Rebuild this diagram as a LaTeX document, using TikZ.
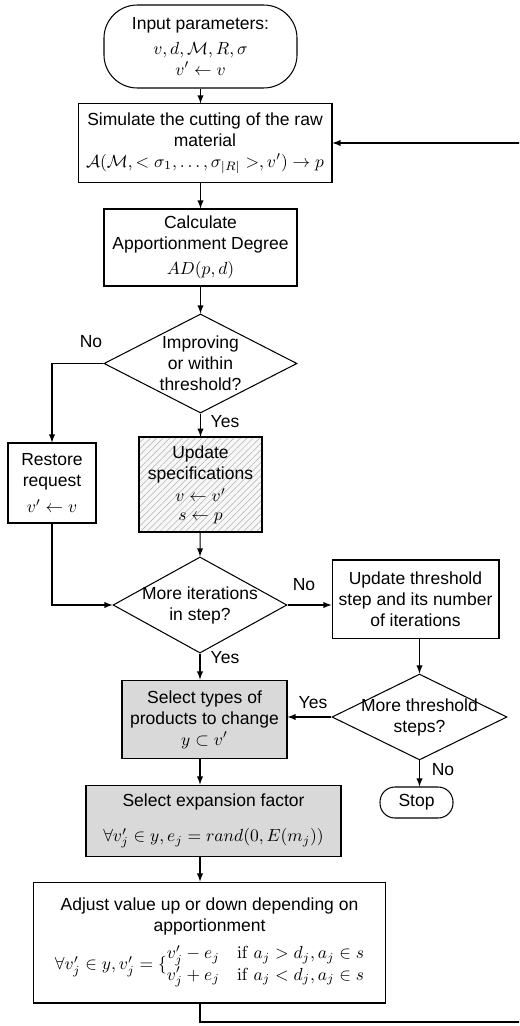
\documentclass[tikz,border=0pt]{standalone}
\usepackage{amsmath}
\usepackage[no-math]{fontspec}
\setsansfont{Liberation Sans}
\usepackage{tikz}
\usetikzlibrary{shapes.geometric,patterns.meta}
\tikzset{> = latex, every picture/.style={line width=0.6pt}}
\tikzset{
  proc/.style={rectangle,draw,align=center,inner sep=2pt},
  term/.style={rectangle,draw,align=center,inner sep=2pt},
  decision/.style={diamond,draw,inner sep=0pt},
  chosen/.style={proc,fill=black!15},
  hatched/.style={proc,preaction={fill=black!3},
    pattern={Lines[angle=45,distance=2.6pt,line width=0.3pt]},pattern color=black!30}
}

\begin{document}
\begin{tikzpicture}[x=0.5714pt,y=-0.5714pt,font=\sffamily]
\clip (0,0) rectangle (519,1026);

\begin{scope}
\node[term,rounded corners=19pt,minimum width=110.3pt,minimum height=47.4pt] (start) at (200.5,46.5)
  {Input parameters:\\[2pt] $v, d, \mathcal{M}, R, \sigma$\\ $v' \leftarrow v$};
\node[proc,minimum width=145.1pt,minimum height=44.6pt] (sim) at (205,143)
  {Simulate the cutting of the raw\\ material\\ $\mathcal{A}(\mathcal{M}, <\sigma_1, \ldots, \sigma_{|R|}>, v') \rightarrow p$};
\node[proc,minimum width=110.3pt,minimum height=44pt] (calc) at (200.5,247.5)
  {Calculate\\ Apportionment Degree\\[2pt] $AD(p,d)$};
\node[decision,minimum width=110.3pt,minimum height=56.6pt,
  label={[align=center]center:Improving\\ or within\\ threshold?}] (improve) at (200.5,363.5) {};
\node[proc,minimum width=50.3pt,minimum height=45.7pt] (restore) at (52,483)
  {Restore\\ request\\[3pt] $v' \leftarrow v$};
\node[hatched,minimum width=70.3pt,minimum height=54.3pt] (update) at (200.5,484.5)
  {Update\\ specifications\\[1pt] $v \leftarrow v'$\\[-1.5pt] $s \leftarrow p$};
\node[decision,minimum width=99.4pt,minimum height=54.9pt,
  label={[align=center]center:More iterations\\ in step?}] (iter) at (200,605) {};
\node[proc,minimum width=95.4pt,minimum height=44.6pt] (thresh) at (415.5,599)
  {Update threshold\\ step and its number\\ of iterations};
\node[decision,minimum width=100pt,minimum height=49.1pt,
  label={[align=center]center:More threshold\\ steps?}] (steps) at (419.5,717) {};
\node[chosen,minimum width=94.3pt,minimum height=45.1pt] (types) at (204.5,719.5)
  {Select types of\\ products to change\\ $y \subset v'$};
\node[term,rounded corners=8.5pt,minimum width=41.7pt,minimum height=17.7pt] (stop) at (416.5,802.5) {Stop};
\node[chosen,minimum width=145.7pt,minimum height=41.1pt] (expand) at (213.5,821)
  {Select expansion factor\\[8pt] $\forall v'_j \in y, e_j = rand(0, E(m_j))$};
\node[proc,minimum width=200.6pt,minimum height=69.1pt] (adjust) at (209.5,942.5)
  {Adjust value up or down depending on\\ apportionment\\[4pt]
   $\forall v'_j \in y, v'_j = \{\begin{array}{@{}l@{\quad}l@{}}
     v'_j - e_j & \mathrm{if}\ a_j > d_j, a_j \in s\\[0pt]
     v'_j + e_j & \mathrm{if}\ a_j < d_j, a_j \in s
   \end{array}$};
\end{scope}

% answers on the branches
\node (noImprove) at (91,342) {No};
\node (yesImprove) at (225,422) {Yes};
\node (noIter) at (304,585) {No};
\node (yesIter) at (225,658) {Yes};
\node (yesSteps) at (313,703) {Yes};
\node (noSteps) at (443,770) {No};

\coordinate (loopBL) at (200,1022);
\coordinate (loopBR) at (530,1022);

\begin{scope}[every edge/.style={draw}]
    \path [->] (start) edge (start |- sim.north);
    \path [->] (calc |- sim.south) edge (calc.north);
    \path [->] (calc) edge (improve.north);
    \path [->] (improve) edge (update.north);
    \draw [->] (improve.west) -| (restore.north);
    \draw [->] (restore.south) |- (iter.west);
    \path [->] (update) edge (iter.north);
    \path [->] (iter.east) edge (iter.east -| thresh.west);
    \path [->] (steps |- thresh.south) edge (steps.north);
    \path [->] (steps.west) edge (steps.west -| types.east);
    \path [->] (steps.south) edge (steps |- stop.north);
    \path [->] (iter.south) edge (iter |- types.north);
    \path [->] (iter |- types.south) edge (iter |- expand.north);
    \path [->] (iter |- expand.south) edge (iter |- adjust.north);
    \draw [->] (adjust.south -| loopBL) -- (loopBL) -- (loopBR) -- (loopBR |- sim.east) -- (sim.east);
\end{scope}
\end{tikzpicture}
\end{document}
